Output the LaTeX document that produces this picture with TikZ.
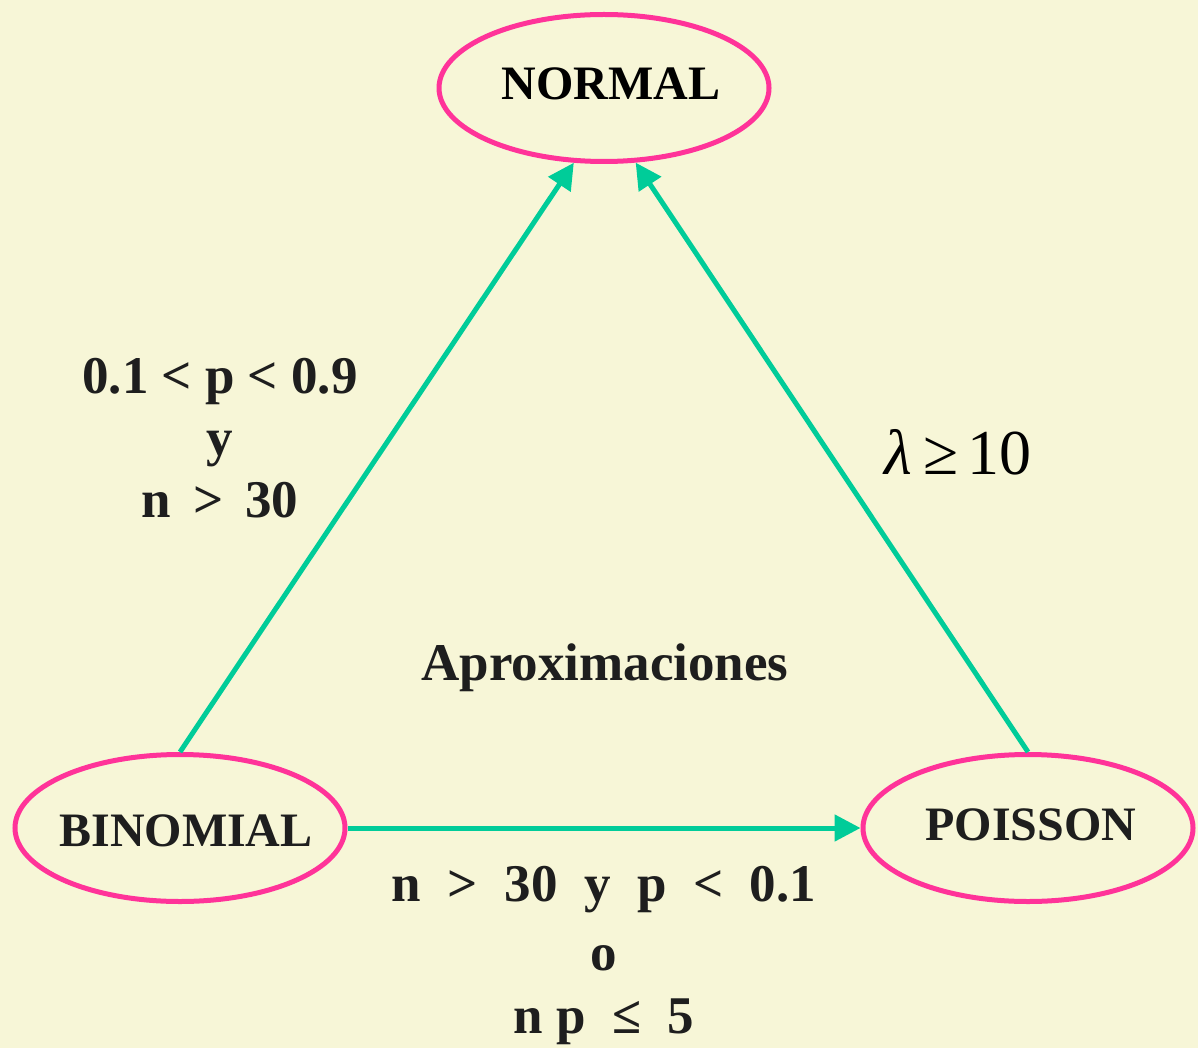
\documentclass[tikz,border=0pt]{standalone}
\usepackage{fontspec}
\setmainfont{Liberation Serif}
\usetikzlibrary{shapes.geometric,arrows.meta}
\definecolor{bg}{HTML}{F7F6D7}
\definecolor{pinkline}{HTML}{FF3399}
\definecolor{teal}{HTML}{00CC99}
\definecolor{ink}{HTML}{1E1E1E}
\tikzset{
  dist/.style={ellipse, draw=pinkline, line width=5pt, minimum width=330pt, minimum height=147pt, inner sep=0pt},
  distlbl/.style={font=\fontsize{48}{56}\selectfont\bfseries, text=ink, inner sep=0pt},
  conn/.style={draw=teal, line width=5pt, -{Triangle[length=26pt,width=26pt]}},
  cond/.style={font=\fontsize{53}{66}\selectfont\bfseries, text=ink, align=center, inner sep=0pt}
}
\begin{document}
\begin{tikzpicture}[x=1pt,y=-1pt]
\fill[bg] (0,0) rectangle (1198,1048);
\useasboundingbox (0,0) rectangle (1198,1048);
\node[dist] (norm) at (604,88) {};
\node[dist] (bin) at (180,828) {};
\node[dist] (poi) at (1028,828) {};
\node[distlbl, text=black] (normT) at (611,84) {NORMAL};
\node[distlbl] (binT) at (186,831) {BINOMIAL};
\node[distlbl] (poiT) at (1031,825) {POISSON};
\draw[conn] (bin.north) -- (norm.248);
\draw[conn] (poi.north) -- (norm.293);
\draw[conn] (bin.east) -- (poi.west);
\node[cond] (lblL) at (220,438) {0.1 < p < 0.9\\[-4pt] y\\[-4pt] n\, >\, 30};
\node[cond] (lblB) at (604,956) {n\ \ >\ \ 30\ \ y\ \ p\ \ <\ \ 0.1\\[3pt] o\\[-3pt] n p\ \ ≤\ \ 5};
\node[cond] (apx) at (605,668) {Aproximaciones};
\node[font=\fontsize{64}{70}\selectfont, text=black, inner sep=0pt] (lam) at (958,452) {\textit{λ}\hspace{11pt}≥\hspace{9pt}10};
\end{tikzpicture}
\end{document}
